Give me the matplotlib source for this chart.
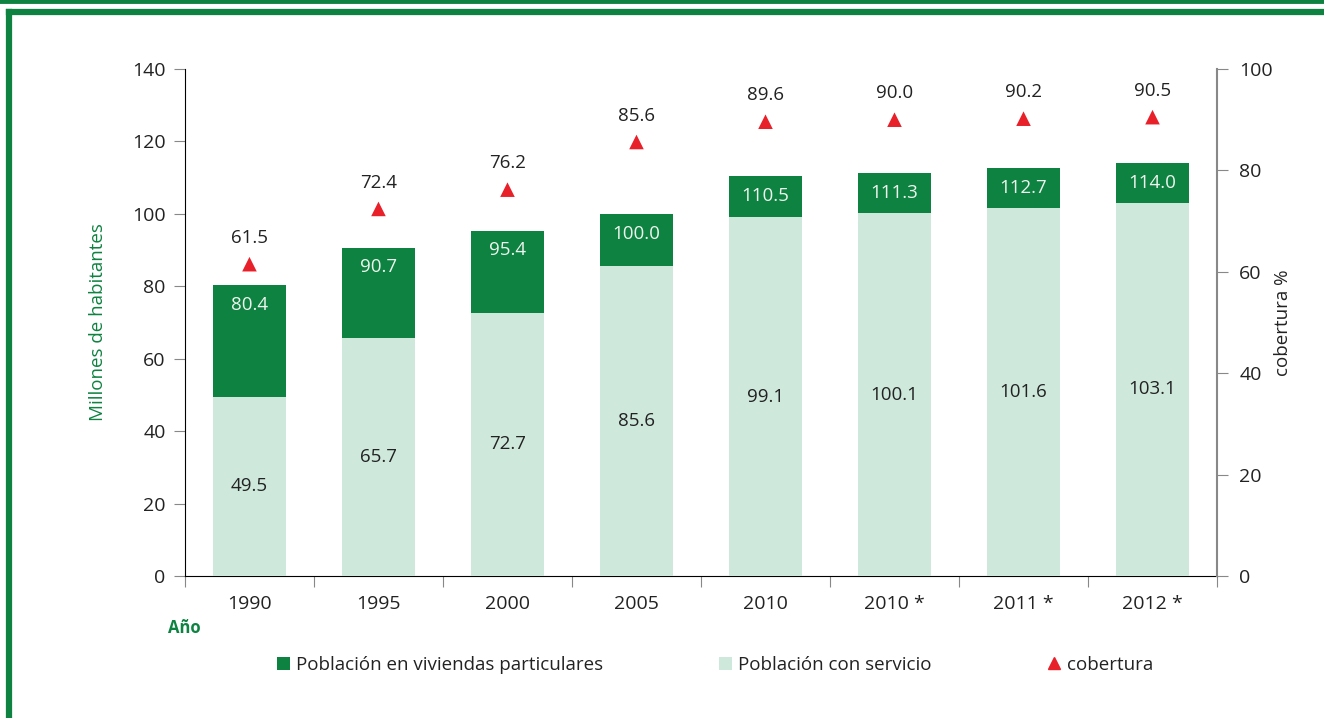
import numpy as np
import matplotlib.pyplot as plt
from matplotlib.lines import Line2D
from matplotlib.patches import Patch

plt.rcParams['font.family'] = ['Open Sans', 'DejaVu Sans']

# data
anios = ['1990', '1995', '2000', '2005', '2010', '2010 *', '2011 *', '2012 *']
poblacion_total = [80.4, 90.7, 95.4, 100.0, 110.5, 111.3, 112.7, 114.0]
poblacion_servicio = [49.5, 65.7, 72.7, 85.6, 99.1, 100.1, 101.6, 103.1]
cobertura = [61.5, 72.4, 76.2, 85.6, 89.6, 90.0, 90.2, 90.5]

verde = '#0e8241'
verde_claro = '#cfe8dc'
rojo = '#e8202a'
texto = '#222222'

fig = plt.figure(figsize=(13.24, 7.18), dpi=100)

# green frame lines
fig.add_artist(Line2D([0, 1], [0.998, 0.998], color=verde, lw=3.5, transform=fig.transFigure))
fig.add_artist(Line2D([0.0068, 1], [0.983, 0.983], color=verde, lw=4.5, transform=fig.transFigure))
fig.add_artist(Line2D([0.0068, 0.0068], [0, 0.983], color=verde, lw=4.5, transform=fig.transFigure))

ax = fig.add_axes([0.1397, 0.1978, 0.7795, 0.7061])
x = np.arange(len(anios))
w = 0.57
ax.bar(x, poblacion_total, width=w, color=verde, zorder=2)
ax.bar(x, poblacion_servicio, width=w, color=verde_claro, zorder=3)

for i in range(len(anios)):
    ax.text(x[i], poblacion_total[i] - 5.5, '%.1f' % poblacion_total[i], ha='center', va='center',
            color='#eef5ee', fontsize=13.5, zorder=5)
    ax.text(x[i], poblacion_servicio[i] / 2, '%.1f' % poblacion_servicio[i], ha='center', va='center',
            color=texto, fontsize=13.5, zorder=5)

ax.set_xlim(-0.5, len(anios) - 0.5)
ax.set_ylim(0, 140)
ax.set_yticks(range(0, 141, 20))
ax.set_xticks(np.arange(-0.5, len(anios), 1))
ax.set_xticklabels([])
ax.set_xticks(x, minor=True)
ax.set_xticklabels(anios, minor=True)
ax.tick_params(axis='x', which='minor', length=0, pad=14, labelsize=14, labelcolor=texto)
ax.tick_params(axis='x', which='major', length=8, color='#888888')
ax.tick_params(axis='y', length=8, color='#888888', labelsize=14, labelcolor=texto, pad=6)
ax.spines['top'].set_visible(False)
ax.spines['right'].set_visible(False)
ax.spines['left'].set_color('black')
ax.spines['bottom'].set_color('black')
ax.set_ylabel('Millones de habitantes', color=verde, fontsize=13.5, labelpad=18)

ax2 = ax.twinx()
ax2.set_ylim(0, 100)
ax2.set_yticks(range(0, 101, 20))
ax2.scatter(x, cobertura, marker='^', s=110, color=rojo, zorder=6, edgecolors='none')
for i in range(len(anios)):
    ax2.text(x[i], cobertura[i] + 5.2, '%.1f' % cobertura[i], ha='center', va='center',
             color=texto, fontsize=13.5)
for s in ['top', 'left', 'bottom']:
    ax2.spines[s].set_visible(False)
ax2.spines['right'].set_color('#888888')
ax2.spines['right'].set_linewidth(1.5)
ax2.tick_params(axis='y', length=8, color='#888888', labelsize=14, labelcolor=texto, pad=8)
ax2.set_ylabel('cobertura %', color=texto, fontsize=13.5, labelpad=1)

fig.text(0.127, 0.126, 'Año', color=verde, fontsize=12, fontweight='bold', ha='left', va='center')

handles = [Patch(facecolor=verde, edgecolor='none'),
           Patch(facecolor=verde_claro, edgecolor='none'),
           Line2D([], [], marker='^', color=rojo, linestyle='none', markersize=9)]
labels = ['Población en viviendas particulares', 'Población con servicio', 'cobertura']
fig.legend(handles, labels, loc='center', bbox_to_anchor=(0.54, 0.074), ncol=3, frameon=False,
           fontsize=13.5, handlelength=0.7, handleheight=0.7, handletextpad=0.3, columnspacing=6.2,
           labelcolor=texto)

fig.savefig('out.png', dpi=100)
